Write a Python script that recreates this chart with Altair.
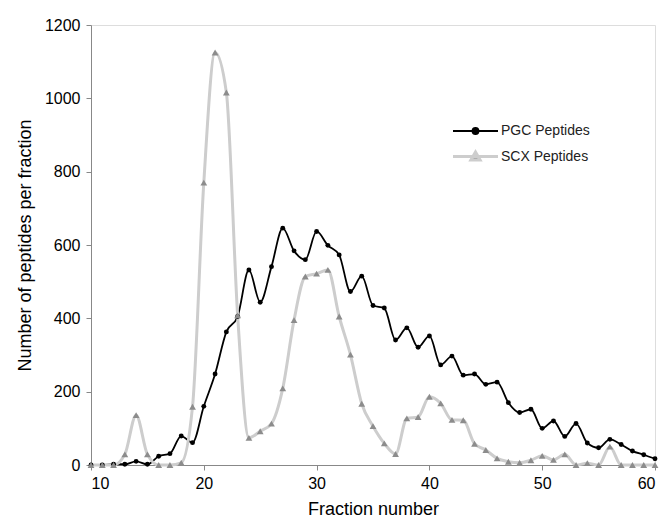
import altair as alt
import pandas as pd

names = ["PGC Peptides", "SCX Peptides"]
fractions = list(range(10, 61))
pgc = [0, 0, 2, 2, 10, 2, 24, 31, 79, 61,
       160, 248, 363, 405, 532, 444, 541, 646, 584, 560,
       637, 599, 573, 473, 515, 435, 428, 341, 374, 321,
       352, 273, 297, 245, 248, 220, 226, 170, 143, 152,
       100, 120, 78, 113, 60, 47, 70, 56, 38, 28,
       17]
scx = [0, 0, 0, 29, 136, 29, 0, 0, 6, 159,
       770, 1125, 1016, 408, 74, 92, 113, 209, 395, 514,
       522, 532, 405, 301, 167, 106, 59, 30, 127, 131,
       186, 168, 123, 122, 58, 41, 18, 9, 6, 13,
       25, 14, 29, 0, 5, 0, 50, 0, 0, 0,
       0]
x_ticks = [10, 20, 30, 40, 50, 60]
y_ticks = [0, 200, 400, 600, 800, 1000, 1200]

df = pd.concat([
    pd.DataFrame({"fraction": fractions, "value": pgc, "series": names[0]}),
    pd.DataFrame({"fraction": fractions, "value": scx, "series": names[1]}),
], ignore_index=True)

FONT = "Liberation Sans"
stroke_scale = alt.Scale(domain=names, range=["#000000", "#cdcdcd"])
fill_scale = alt.Scale(domain=names, range=["#000000", "#8c8c8c"])

path_pgc = "M-2.25,0L2.25,0M-0.3,0A0.3,0.3,0,1,0,0.3,0A0.3,0.3,0,1,0,-0.3,0Z"
path_scx = "M-2.25,0L2.25,0M0,-0.45L0.46,0.34L-0.46,0.34Z"

leg = alt.Legend(title=None, orient="none", legendX=373, legendY=95,
                 symbolSize=400, labelOffset=14, rowPadding=7, padding=0,
                 labelFontSize=14, labelFont=FONT, labelColor="#222222",
                 symbolStrokeWidth=1.2, symbolOpacity=1)

base = alt.Chart(df).encode(
    x=alt.X("fraction:Q",
            scale=alt.Scale(domain=[10, 60], nice=False, zero=False),
            axis=alt.Axis(values=x_ticks, title="Fraction number", grid=False, format="d",
                          labelFontSize=16, titleFontSize=18, labelPadding=5,
                          titlePadding=9, tickSize=5, titleFontWeight="normal")),
    y=alt.Y("value:Q",
            scale=alt.Scale(domain=[0, 1200], nice=False),
            axis=alt.Axis(values=y_ticks, title="Number of peptides per fraction", format="d",
                          grid=False, labelFontSize=16, titleFontSize=18,
                          labelPadding=6, titlePadding=10, tickSize=5,
                          titleFontWeight="normal")),
)

lines = base.mark_line(interpolate="monotone").encode(
    stroke=alt.Stroke("series:N", scale=stroke_scale, legend=leg),
    strokeWidth=alt.StrokeWidth("series:N", scale=alt.Scale(domain=names, range=[1.8, 3.0]), legend=None),
    detail="series:N",
)

pts_pgc = base.transform_filter(alt.datum.series == names[0]).mark_point(
    filled=True, opacity=1, strokeWidth=0, shape="circle", size=24
).encode(fill=alt.Fill("series:N", scale=fill_scale, legend=leg))

pts_scx = base.transform_filter(alt.datum.series == names[1]).mark_point(
    filled=True, opacity=1, strokeWidth=0, shape="triangle-up", size=46
).encode(fill=alt.Fill("series:N", scale=fill_scale, legend=leg))

legend_layer = alt.Chart(df).transform_filter("false").mark_point(
    filled=True, opacity=1, strokeWidth=1.2
).encode(
    shape=alt.Shape("series:N", scale=alt.Scale(domain=names, range=[path_pgc, path_scx]), legend=leg),
    fill=alt.Fill("series:N", scale=fill_scale, legend=leg),
    stroke=alt.Stroke("series:N", scale=stroke_scale, legend=leg),
)

chart = alt.layer(lines, pts_pgc, pts_scx, legend_layer).properties(
    width=564, height=440,
    autosize=alt.AutoSizeParams(type="none"),
    padding={"left": 91, "top": 25, "right": 10, "bottom": 56},
).configure_view(
    stroke=None
).configure_axis(
    domainColor="#8a8a8a", tickColor="#8a8a8a", domainWidth=1.2,
    labelFont=FONT, titleFont=FONT, labelColor="#111111", titleColor="#111111",
    titleFontWeight="normal",
).configure(background="white")

chart.save("out.html", embed_options={"renderer": "svg", "actions": False})
